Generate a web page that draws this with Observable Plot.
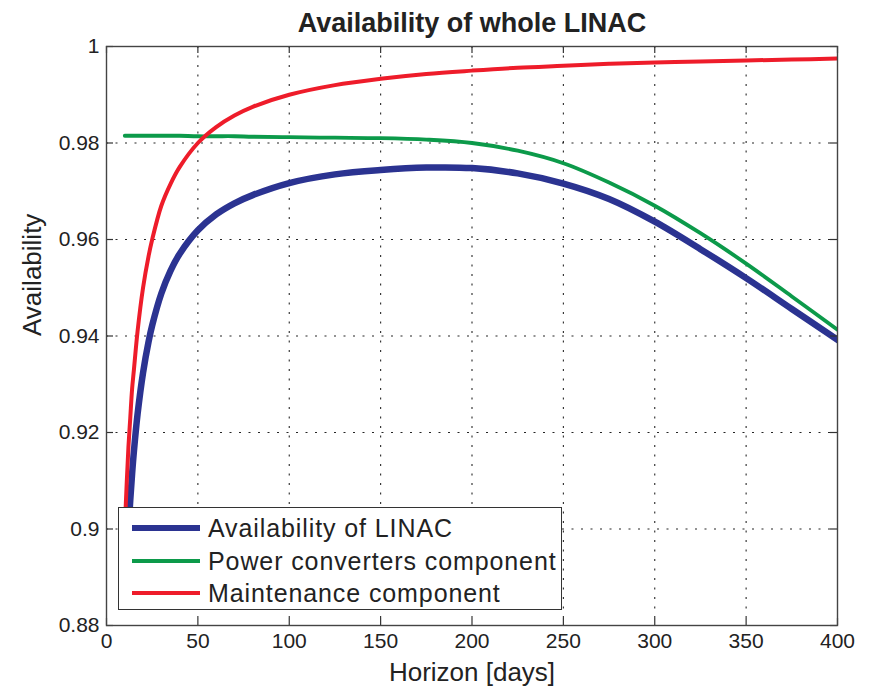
<!DOCTYPE html>
<html>
<head>
<meta charset="utf-8">
<script src="https://cdn.jsdelivr.net/npm/d3@7"></script>
<script src="https://cdn.jsdelivr.net/npm/@observablehq/plot@0.6"></script>
<style>
  html, body { margin: 0; padding: 0; background: #fff; }
  #wrap { position: relative; width: 870px; height: 687px; font-family: "Liberation Sans", Arial, Helvetica, sans-serif; }
  #legend { position: absolute; left: 118px; top: 507px; width: 442px; height: 101px; background: #fff; border: 1.3px solid #333; color: #222; }
  .row { position: absolute; left: 0; height: 0; }
  .swatch { position: absolute; left: 13px; width: 68px; }
  .lbl { position: absolute; left: 89px; white-space: nowrap; font-size: 25px; letter-spacing: 0.9px; line-height: 1; transform: translateY(-50%); }
</style>
</head>
<body>
<div id="wrap"></div>
<script>
// ---- data ----
const days = [10, 11, 12, 13, 14, 15, 17, 20, 23, 25, 30, 35, 40, 50, 60, 70, 80, 100, 125, 150, 175, 200, 225, 250, 275, 300, 325, 350, 375, 400];
const linacAvail = [0.886, 0.8925, 0.8997, 0.906, 0.9114, 0.9161, 0.9238, 0.9324, 0.9388, 0.9422, 0.9488, 0.9535, 0.957, 0.9619, 0.9652, 0.9675, 0.9692, 0.9717, 0.9735, 0.9744, 0.9749, 0.9748, 0.9737, 0.9716, 0.9684, 0.9637, 0.958, 0.952, 0.9456, 0.9392];
const powerConv  = [0.9815, 0.9815, 0.9815, 0.9815, 0.9815, 0.9815, 0.9815, 0.9815, 0.9815, 0.9815, 0.9815, 0.9815, 0.9815, 0.9814, 0.9814, 0.9814, 0.9813, 0.9812, 0.9811, 0.981, 0.9807, 0.98, 0.9784, 0.9758, 0.9718, 0.967, 0.9613, 0.955, 0.9482, 0.9413];
const maintComp  = [0.900, 0.909, 0.917, 0.923, 0.929, 0.933, 0.941, 0.950, 0.9565, 0.960, 0.967, 0.9715, 0.975, 0.980, 0.9833, 0.9857, 0.9875, 0.990, 0.992, 0.9933, 0.9943, 0.995, 0.9956, 0.996, 0.9964, 0.9967, 0.9969, 0.9971, 0.9973, 0.9975];
const seriesNames = ["Availability of LINAC", "Power converters component", "Maintenance component"];
const xTicks = [0, 50, 100, 150, 200, 250, 300, 350, 400];
const yTicks = [0.88, 0.9, 0.92, 0.94, 0.96, 0.98, 1];
const titleText = "Availability of whole LINAC";
const xLabel = "Horizon [days]";
const yLabel = "Availability";

// ---- styles ----
const colors = ["#2b3391", "#0c9a4a", "#ee1c2a"];
const widths = [6.5, 3.8, 4];
const W = 870, H = 687, mL = 106, mR = 33, mT = 46, mB = 62;
const plotW = W - mL - mR, plotH = H - mT - mB, tickLen = 7;

const seriesValues = [linacAvail, powerConv, maintComp];
const rows = seriesValues.map((vals, s) => days.map((d, i) => ({day: d, value: vals[i], series: seriesNames[s]})));

const gridStyle = {stroke: "#000", strokeOpacity: 0.85, strokeWidth: 1.1, strokeDasharray: "2,7.5"};

const chart = Plot.plot({
  width: W, height: H,
  marginLeft: mL, marginRight: mR, marginTop: mT, marginBottom: mB,
  x: {domain: [0, 400]},
  y: {domain: [0.88, 1]},
  style: {fontFamily: "'Liberation Sans', Arial, Helvetica, sans-serif", fontSize: "21px", color: "#222", background: "#fff", overflow: "visible"},
  marks: [
    Plot.gridX(xTicks.slice(1, -1), gridStyle),
    Plot.gridY(yTicks.slice(1, -1), gridStyle),
    ...rows.map((r, s) => Plot.line(r, {x: "day", y: "value", stroke: colors[s], strokeWidth: widths[s], curve: "catmull-rom", clip: true})),
    Plot.ruleX(xTicks, {x: d => d, stroke: "#333", strokeWidth: 1.2, insetTop: plotH - tickLen}),
    Plot.ruleX(xTicks, {x: d => d, stroke: "#333", strokeWidth: 1.2, insetBottom: plotH - tickLen}),
    Plot.ruleY(yTicks, {y: d => d, stroke: "#333", strokeWidth: 1.2, insetRight: plotW - tickLen}),
    Plot.ruleY(yTicks, {y: d => d, stroke: "#333", strokeWidth: 1.2, insetLeft: plotW - tickLen}),
    Plot.frame({stroke: "#444", strokeWidth: 1.4}),
    Plot.axisX(xTicks, {tickSize: 0, tickPadding: 8, label: null, fontSize: 21, tickFormat: d => String(d)}),
    Plot.axisY(yTicks, {tickSize: 0, tickPadding: 7, label: null, fontSize: 21, tickFormat: d => String(d)}),
    Plot.text([titleText], {text: d => d, frameAnchor: "top", dy: -15, lineAnchor: "bottom", fontSize: 27, fontWeight: "bold", fill: "#222"}),
    Plot.text([xLabel], {text: d => d, frameAnchor: "bottom", dy: 55, lineAnchor: "bottom", fontSize: 26, fill: "#222"}),
    Plot.text([yLabel], {text: d => d, frameAnchor: "left", dx: -74, rotate: -90, fontSize: 26, fill: "#222"})
  ]
});

const wrap = document.getElementById("wrap");
wrap.appendChild(chart);

// legend (HTML overlay, drawn above the lines like MATLAB's opaque legend box)
const legend = document.createElement("div");
legend.id = "legend";
const rowY = [20, 53, 85];
seriesNames.forEach((name, i) => {
  const row = document.createElement("div");
  row.className = "row";
  row.style.top = rowY[i] + "px";
  const sw = document.createElement("div");
  sw.className = "swatch";
  sw.style.background = colors[i];
  sw.style.height = widths[i] + "px";
  sw.style.top = (-widths[i] / 2) + "px";
  const lb = document.createElement("div");
  lb.className = "lbl";
  lb.textContent = name;
  row.appendChild(sw);
  row.appendChild(lb);
  legend.appendChild(row);
});
wrap.appendChild(legend);
</script>
</body>
</html>
